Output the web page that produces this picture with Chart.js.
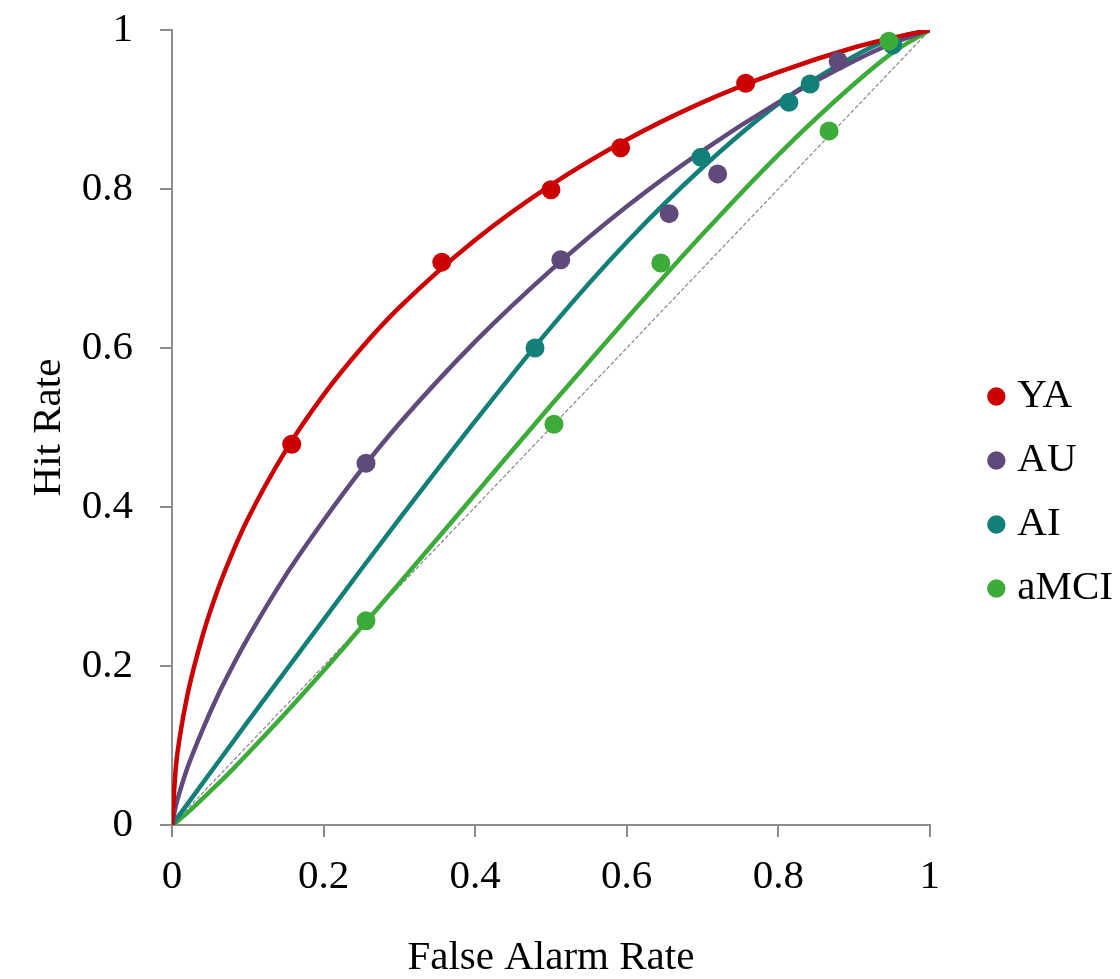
<!DOCTYPE html>
<html>
<head>
<meta charset="utf-8">
<script src="https://cdn.jsdelivr.net/npm/chart.js@4/dist/chart.umd.min.js"></script>
<style>
  body { margin: 0; background: #fff; }
  #wrap { width: 1120px; height: 979px; }
</style>
</head>
<body>
<div id="wrap"><canvas id="roc" width="1120" height="979"></canvas></div>
<script>
// observed points (false alarm rate, hit rate)
const yaFA = [0.158, 0.356, 0.500, 0.592, 0.757];
const yaHit = [0.479, 0.708, 0.799, 0.852, 0.933];
const auFA = [0.256, 0.513, 0.656, 0.720, 0.879];
const auHit = [0.455, 0.711, 0.769, 0.819, 0.961];
const aiFA = [0.479, 0.698, 0.814, 0.842, 0.951];
const aiHit = [0.600, 0.840, 0.909, 0.932, 0.981];
const mciFA = [0.256, 0.504, 0.645, 0.867, 0.946];
const mciHit = [0.257, 0.504, 0.707, 0.873, 0.986];

// fitted curves
const curveFA = [0, 0.005, 0.01, 0.02, 0.04, 0.06, 0.08, 0.1, 0.15, 0.2, 0.25, 0.3, 0.4, 0.5, 0.6, 0.7, 0.8, 0.9, 0.95, 1];
const curveYA = [0, 0.072, 0.109, 0.162, 0.237, 0.295, 0.343, 0.385, 0.471, 0.541, 0.600, 0.651, 0.736, 0.805, 0.862, 0.909, 0.947, 0.978, 0.990, 1];
const curveAU = [0, 0.024, 0.041, 0.071, 0.119, 0.162, 0.200, 0.235, 0.314, 0.383, 0.447, 0.505, 0.608, 0.698, 0.778, 0.848, 0.909, 0.961, 0.983, 1];
const curveAI = [0, 0.0065, 0.013, 0.026, 0.052, 0.078, 0.104, 0.130, 0.194, 0.258, 0.322, 0.385, 0.508, 0.626, 0.733, 0.827, 0.907, 0.967, 0.989, 1];
const curveMCI = [0, 0.003, 0.007, 0.015, 0.033, 0.051, 0.070, 0.090, 0.141, 0.194, 0.249, 0.304, 0.416, 0.528, 0.637, 0.743, 0.843, 0.932, 0.971, 1];

const chanceFA = [0, 1];
const chanceHit = [0, 1];
const axisTicks = [0, 0.2, 0.4, 0.6, 0.8, 1];

const groups = ["YA", "AU", "AI", "aMCI"];
const colors = ["#CC0000", "#604A7B", "#137F79", "#3DAB3A"];
// lower draws on top (aMCI markers sit over AI ones)
const drawOrder = [0, 1, 3, 2];

function pairs(xs, ys) {
  return xs.map((x, i) => ({ x: x, y: ys[i] }));
}

const pointSets = [[yaFA, yaHit], [auFA, auHit], [aiFA, aiHit], [mciFA, mciHit]];
const curveSets = [curveYA, curveAU, curveAI, curveMCI];

const datasets = [];
groups.forEach((g, i) => {
  datasets.push({
    label: g,
    data: pairs(pointSets[i][0], pointSets[i][1]),
    backgroundColor: colors[i],
    borderColor: colors[i],
    pointRadius: 9.5,
    pointBorderWidth: 0,
    showLine: false,
    order: drawOrder[i]
  });
});
curveSets.forEach((c, i) => {
  datasets.push({
    label: groups[i] + " fit",
    data: pairs(curveFA, c),
    borderColor: colors[i],
    borderWidth: 4.5,
    pointRadius: 0,
    showLine: true,
    cubicInterpolationMode: "monotone",
    order: 10 + i,
    isFit: true
  });
});
datasets.push({
  label: "chance",
  data: pairs(chanceFA, chanceHit),
  borderColor: "#888888",
  borderWidth: 1.2,
  borderDash: [4, 2],
  pointRadius: 0,
  showLine: true,
  order: 20,
  isFit: true
});

const font = { family: "'Liberation Serif', 'Times New Roman', serif", size: 41 };

// nudge legend to where the reference puts it
const legendShift = {
  id: "legendShift",
  afterLayout(chart) {
    const lg = chart.legend;
    lg.left += 43; lg.right += 43;
    lg.top -= 12; lg.bottom -= 12;
  }
};

new Chart(document.getElementById("roc"), {
  type: "scatter",
  data: { datasets: datasets },
  plugins: [legendShift],
  options: {
    responsive: false,
    animation: false,
    layout: { padding: { top: 30, left: 10, right: 40, bottom: 0 } },
    plugins: {
      tooltip: { enabled: false },
      legend: {
        position: "right",
        labels: {
          filter: (item, data) => !data.datasets[item.datasetIndex].isFit,
          sort: (a, b) => a.datasetIndex - b.datasetIndex,
          usePointStyle: true,
          pointStyle: "circle",
          boxWidth: 1,
          boxHeight: 13,
          padding: 23,
          color: "#000",
          font: font
        }
      }
    },
    scales: {
      x: {
        type: "linear",
        min: 0, max: 1,
        afterBuildTicks: (s) => { s.ticks = axisTicks.map(v => ({ value: v })); },
        afterFit: (s) => { s.height = 154; s.paddingLeft = 0; s.paddingRight = 0; },
        border: { color: "#8c8c8c", width: 2 },
        grid: { drawOnChartArea: false, drawTicks: true, tickLength: 12, color: "#8c8c8c", lineWidth: 2 },
        ticks: { color: "#000", font: font, padding: 16, maxRotation: 0, callback: v => String(v) },
        title: { display: true, text: "False Alarm Rate", color: "#000", font: { ...font, lineHeight: 1 }, padding: { top: 0, bottom: 0 } }
      },
      y: {
        type: "linear",
        min: 0, max: 1,
        afterBuildTicks: (s) => { s.ticks = axisTicks.map(v => ({ value: v })); },
        afterFit: (s) => { s.width = 162; s.paddingTop = 0; s.paddingBottom = 0; },
        border: { color: "#8c8c8c", width: 2 },
        grid: { drawOnChartArea: false, drawTicks: true, tickLength: 12, color: "#8c8c8c", lineWidth: 2 },
        ticks: { color: "#000", font: font, padding: 27, callback: v => String(v) },
        title: { display: true, text: "Hit Rate", color: "#000", font: { ...font, lineHeight: 1 }, padding: { top: 19, bottom: 0 } }
      }
    }
  }
});
</script>
</body>
</html>
